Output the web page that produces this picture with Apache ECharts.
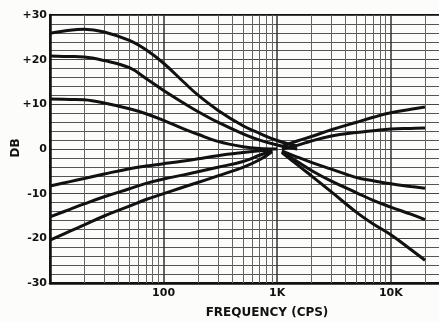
<!DOCTYPE html>
<html>
<head>
<meta charset="utf-8">
<script src="https://cdn.jsdelivr.net/npm/echarts@6/dist/echarts.min.js"></script>
<style>
  html, body { margin: 0; padding: 0; background: #fcfcfa; }
  #chart { width: 439px; height: 322px; }
</style>
</head>
<body>
<div id="chart"></div>
<script>
// Tone-control response: bass/treble boost and cut, dB vs frequency (log scale)
const bassBoostFreq = [10, 15, 20, 30, 50, 70, 100, 150, 200, 300, 500, 700, 1000, 1500];
const bassBoostMax  = [25.9, 26.6, 26.8, 26.2, 24.3, 22.2, 19.2, 15.0, 12.1, 8.7, 5.2, 3.5, 1.9, 0.6];
const bassBoostMid  = [20.8, 20.7, 20.6, 19.8, 18.2, 15.8, 13.1, 10.3, 8.4, 6.0, 3.4, 2.0, 0.9, 0.0];
const bassBoostLow  = [11.2, 11.1, 11.0, 10.3, 9.0, 7.9, 6.4, 4.5, 3.3, 1.7, 0.5, 0.1, 0.0, null];

const bassCutFreq = [10, 15, 20, 30, 50, 70, 100, 150, 200, 300, 500, 700, 900];
const bassCutLow  = [-8.3, -7.3, -6.6, -5.6, -4.4, -3.8, -3.3, -2.7, -2.2, -1.5, -0.8, -0.4, -0.2];
const bassCutMid  = [-15.2, -13.5, -12.3, -10.7, -8.9, -7.7, -6.7, -5.8, -5.1, -4.1, -2.8, -1.4, -0.4];
const bassCutMax  = [-20.4, -18.4, -17.0, -15.0, -12.8, -11.3, -10.0, -8.5, -7.5, -6.0, -4.1, -2.4, -0.6];

const trebleFreq      = [1100, 1500, 2000, 3000, 5000, 7000, 10000, 15000, 20000];
const trebleBoostMax  = [0.6, 1.8, 2.8, 4.3, 6.0, 7.1, 8.1, 8.9, 9.4];
const trebleBoostLow  = [0.0, 0.8, 1.8, 2.9, 3.7, 4.1, 4.5, 4.6, 4.7];
const trebleCutLow    = [-0.4, -1.8, -3.0, -4.5, -6.4, -7.1, -7.8, -8.4, -8.8];
const trebleCutMid    = [-0.6, -2.8, -4.8, -7.2, -9.8, -11.5, -13.0, -14.6, -15.8];
const trebleCutMax    = [-0.8, -3.5, -6.0, -9.6, -14.2, -16.8, -19.2, -22.5, -24.9];

// Axis tick labels
const xTickLabels = { 100: '100', 1000: '1K', 10000: '10K' };
const yTickLabels = { '-30': '-30', '-20': '-20', '-10': '-10', '0': '0', '10': '+10', '20': '+20', '30': '+30' };

// Intermediate log-paper rulings (2..9 in each decade)
const minorFreqs = [20, 30, 40, 50, 60, 70, 80, 90,
                    200, 300, 400, 500, 600, 700, 800, 900,
                    2000, 3000, 4000, 5000, 6000, 7000, 8000, 9000, 20000];

const zip = (xs, ys) => xs.map((x, i) => [x, ys[i]]);

const curves = [
  [bassBoostFreq, bassBoostMax], [bassBoostFreq, bassBoostMid], [bassBoostFreq, bassBoostLow],
  [bassCutFreq, bassCutLow], [bassCutFreq, bassCutMid], [bassCutFreq, bassCutMax],
  [trebleFreq, trebleBoostMax], [trebleFreq, trebleBoostLow],
  [trebleFreq, trebleCutLow], [trebleFreq, trebleCutMid], [trebleFreq, trebleCutMax]
];

const labelFont = { color: '#111', fontFamily: 'DejaVu Sans', fontWeight: 'bold', fontSize: 11 };

const series = curves.map(([f, db]) => ({
  type: 'line',
  data: zip(f, db),
  smooth: 0.4,
  showSymbol: false,
  connectNulls: false,
  z: 5,
  lineStyle: { color: '#111', width: 3 },
  animation: false
}));

// Vertical minor rulings drawn through the x scale
series.unshift({
  type: 'line',
  data: [],
  z: 1,
  silent: true,
  animation: false,
  markLine: {
    silent: true,
    animation: false,
    symbol: ['none', 'none'],
    label: { show: false },
    lineStyle: { color: '#666', width: 1, type: 'solid' },
    data: minorFreqs.map(f => ({ xAxis: f }))
  }
});

const chart = echarts.init(document.getElementById('chart'), null, { renderer: 'canvas' });
chart.setOption({
  backgroundColor: '#fcfcfa',
  animation: false,
  grid: {
    left: 50, right: -6, top: 15, bottom: 39,
    containLabel: false,
    outerBoundsMode: 'none',
    show: true, borderColor: '#111', borderWidth: 2
  },
  xAxis: {
    type: 'log',
    logBase: 10,
    min: 10,
    max: 30000,
    axisLine: { show: true, onZero: false, lineStyle: { color: '#111', width: 2.5 } },
    axisTick: { show: false },
    axisLabel: {
      ...labelFont,
      margin: 5,
      formatter: v => xTickLabels[Math.round(v)] || ''
    },
    splitLine: { show: true, lineStyle: { color: '#333', width: 1.5 } },
    minorTick: { show: false },
    minorSplitLine: { show: false }
  },
  yAxis: {
    type: 'value',
    min: -30,
    max: 30,
    interval: 10,
    axisLine: { show: true, onZero: false, lineStyle: { color: '#111', width: 2.5 } },
    axisTick: { show: false },
    axisLabel: {
      ...labelFont,
      margin: 3,
      formatter: v => yTickLabels[String(v)] || ''
    },
    splitLine: { show: true, lineStyle: { color: '#444', width: 1 } },
    minorTick: { show: false, splitNumber: 5 },
    minorSplitLine: { show: true, lineStyle: { color: '#555', width: 1 } }
  },
  graphic: [
    {
      type: 'text',
      x: 16, y: 148,
      rotation: Math.PI / 2,
      style: { text: 'DB', fill: '#111', font: 'bold 12px "DejaVu Sans"', align: 'center', verticalAlign: 'middle' }
    },
    {
      type: 'text',
      x: 267, y: 313,
      style: { text: 'FREQUENCY (CPS)', fill: '#111', font: 'bold 12px "DejaVu Sans"', align: 'center', verticalAlign: 'middle' }
    }
  ],
  series
});
</script>
</body>
</html>
